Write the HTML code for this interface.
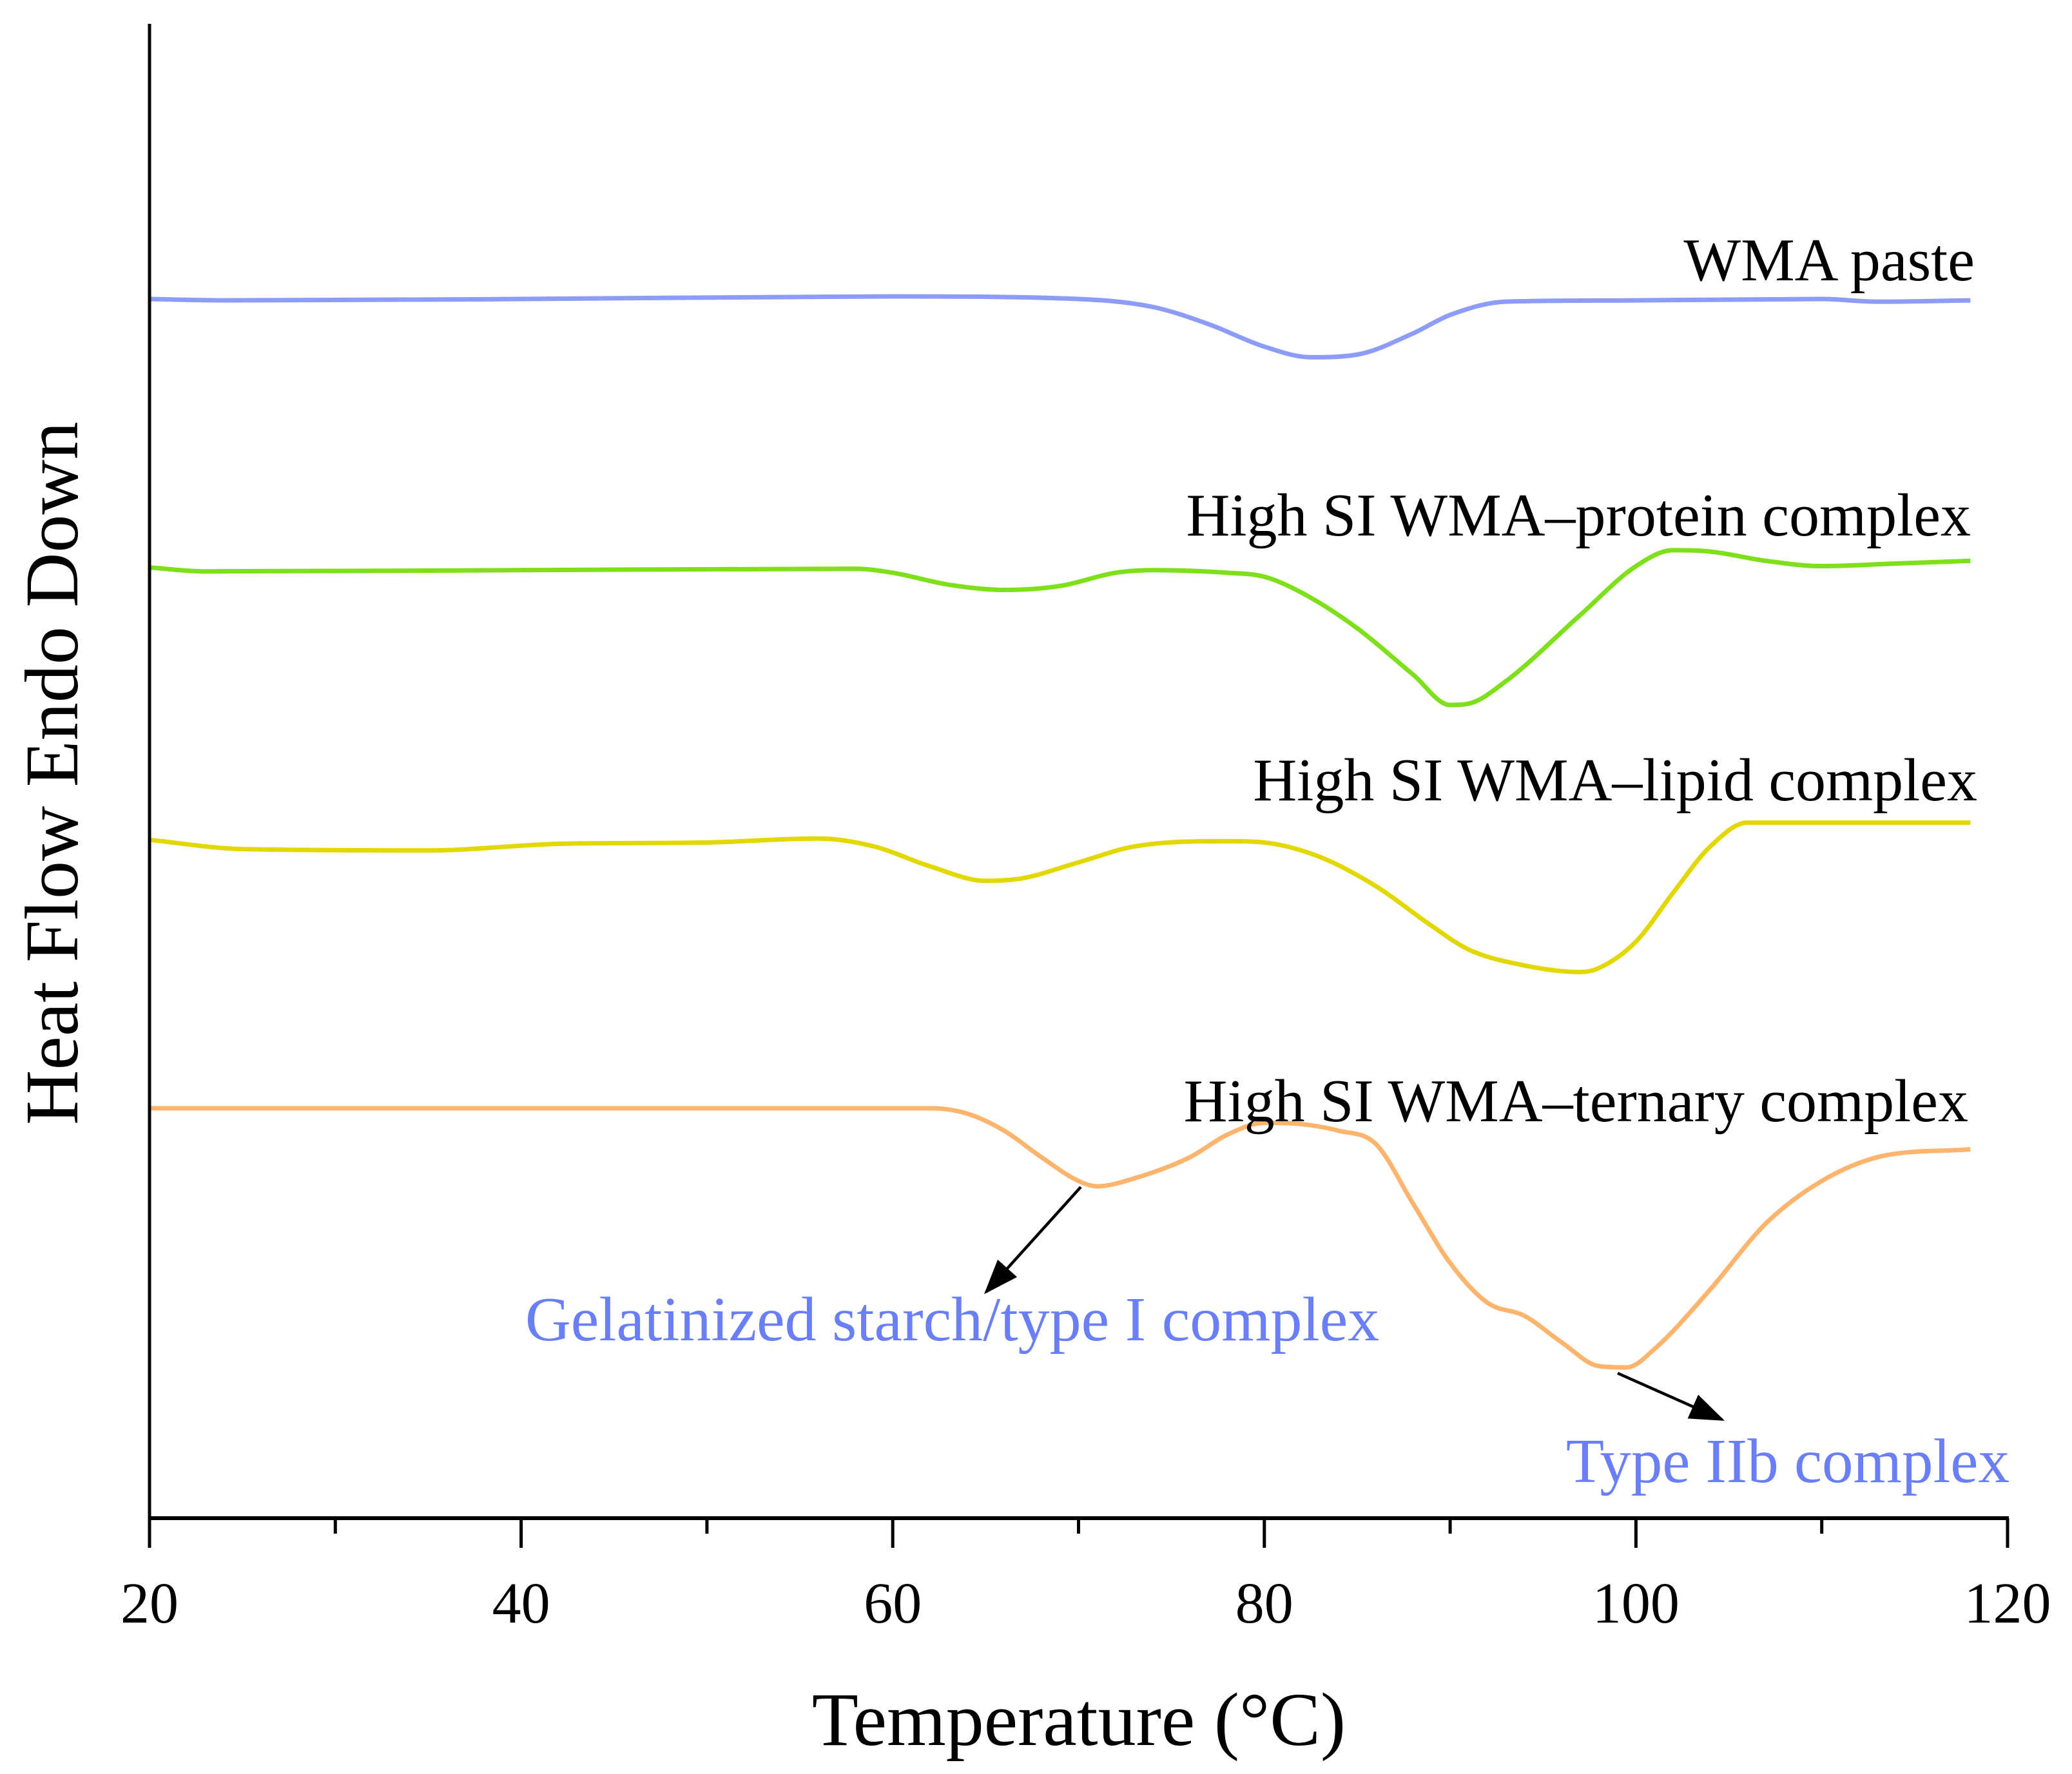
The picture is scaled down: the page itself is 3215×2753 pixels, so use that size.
<!DOCTYPE html>
<html><head><meta charset="utf-8"><style>
html,body{margin:0;padding:0;background:#fff;}
svg{display:block;font-family:"Liberation Serif",serif;}
</style></head><body>
<svg id="chart" width="3215" height="2753" viewBox="0 0 3215 2753" xmlns="http://www.w3.org/2000/svg">
<defs><marker id="ah" markerWidth="12" markerHeight="9" refX="11" refY="4.5" orient="auto" markerUnits="strokeWidth"><path d="M0,0 L12,4.5 L0,9 z" fill="#000"/></marker></defs>
<g id="plot"></g>
<text transform="translate(120,1200) rotate(-90)" text-anchor="middle" font-size="118">Heat Flow Endo Down</text>
<text x="1674" y="2708" text-anchor="middle" font-size="118">Temperature (°C)</text>
<text x="3064" y="435" text-anchor="end" font-size="94">WMA paste</text>
<text x="3058" y="831" text-anchor="end" font-size="94">High SI WMA–protein complex</text>
<text x="3068" y="1242" text-anchor="end" font-size="94">High SI WMA–lipid complex</text>
<text x="3054" y="1740" text-anchor="end" font-size="94">High SI WMA–ternary complex</text>
<text x="815" y="2080" font-size="98" fill="#6a7ff5">Gelatinized starch/type I complex</text>
<text x="3118" y="2300" text-anchor="end" font-size="97" fill="#6a7ff5">Type IIb complex</text>
<line x1="1677" y1="1842" x2="1530" y2="2005" stroke="#000" stroke-width="4.5" marker-end="url(#ah)"/>
<line x1="2510" y1="2131" x2="2672" y2="2203" stroke="#000" stroke-width="4.5" marker-end="url(#ah)"/>
</svg>
<script>
const xTicks = [20, 40, 60, 80, 100, 120];
const xMinor = [30, 50, 70, 90, 110];
const tPaste = [20,24,40,60,70,74,77,80,82.5,85,88,90,93,100,110,113,118];
const vPaste = [92.2,92.1,92.2,92.4,92.2,91.6,90.3,88.6,87.8,88.0,89.6,91.0,92.0,92.1,92.2,92.0,92.1];
const tProtein = [20,23,40,58,60,63,66,69,72,74,78,80,82,85,88,90,91,93,97,100,102,104,107,110,114,118];
const vProtein = [71.9,71.6,71.7,71.8,71.5,70.6,70.2,70.5,71.5,71.7,71.5,71.2,70.0,67.3,63.8,61.5,61.6,63.3,68.3,72.0,73.2,73.1,72.4,72.0,72.2,72.4];
const tLipid = [20,25,35,42,50,56,59,62,65,67,70,73,78,80,83,86,89,91,94,97,98,100,102,104,106,110,118];
const vLipid = [51.3,50.6,50.5,51.0,51.1,51.4,50.8,49.3,48.2,48.4,49.6,50.8,51.2,51.1,50.0,47.8,44.8,43.0,41.8,41.3,41.6,43.6,47.3,50.8,52.6,52.6,52.6];
const tTernary = [20,40,62,64,66,68,70,71,73,76,78,80,82,84,86,88,90,92,94,96,98,99.5,101,104,107,110,113,118];
const vTernary = [31.0,31.0,31.0,30.6,29.3,27.3,25.5,25.1,25.7,27.3,29.0,29.9,29.8,29.3,28.3,23.8,19.3,16.3,15.3,13.3,11.5,11.4,12.8,17.3,22.3,25.5,27.3,27.9];

const NS = "http://www.w3.org/2000/svg";
const X0 = 232, X1 = 3115, YB = 2356;
const xs = t => X0 + (t - 20) / 100 * (X1 - X0);
const ys = v => YB - v * 10 * 2.052;
const plot = document.getElementById('plot');
function mk(tag, attrs) { const e = document.createElementNS(NS, tag); for (const k in attrs) e.setAttribute(k, attrs[k]); plot.appendChild(e); return e; }

function smoothPath(ts, vs) {
  const x = ts.map(xs), y = vs.map(ys), n = x.length;
  const d = [], m = new Array(n);
  for (let i = 0; i < n - 1; i++) d.push((y[i + 1] - y[i]) / (x[i + 1] - x[i]));
  m[0] = d[0]; m[n - 1] = d[n - 2];
  for (let i = 1; i < n - 1; i++) {
    if (d[i - 1] * d[i] <= 0) { m[i] = 0; continue; }
    const avg = (d[i - 1] + d[i]) / 2;
    const lim = 3 * Math.min(Math.abs(d[i - 1]), Math.abs(d[i]));
    m[i] = Math.sign(avg) * Math.min(Math.abs(avg), lim);
  }
  let p = `M${x[0]},${y[0]}`;
  for (let i = 0; i < n - 1; i++) {
    const h = (x[i + 1] - x[i]) / 3;
    p += ` C${x[i] + h},${y[i] + m[i] * h} ${x[i + 1] - h},${y[i + 1] - m[i + 1] * h} ${x[i + 1]},${y[i + 1]}`;
  }
  return p;
}

const s1 = mk('path', {d: smoothPath(tPaste, vPaste), fill: 'none', stroke: '#8c9cf8', 'stroke-width': 7, 'stroke-linejoin': 'round'});


const s2 = mk('path', {d: smoothPath(tProtein, vProtein), fill: 'none', stroke: '#7ee01a', 'stroke-width': 7, 'stroke-linejoin': 'round'});


const s3 = mk('path', {d: smoothPath(tLipid, vLipid), fill: 'none', stroke: '#e2d800', 'stroke-width': 7, 'stroke-linejoin': 'round'});


const s4 = mk('path', {d: smoothPath(tTernary, vTernary), fill: 'none', stroke: '#fdb56e', 'stroke-width': 7, 'stroke-linejoin': 'round'});



const ya = mk('line', {x1: X0, y1: 37, x2: X0, y2: YB, stroke: '#000', 'stroke-width': 5});


const xa = mk('line', {x1: X0 - 2, y1: YB, x2: X1 + 2, y2: YB, stroke: '#000', 'stroke-width': 6});



xTicks.forEach(t => {
  const l = mk('line', {x1: xs(t), y1: YB, x2: xs(t), y2: YB + 46, stroke: '#000', 'stroke-width': 5});
  
  
  const tx = mk('text', {x: xs(t), y: 2518, 'text-anchor': 'middle', 'font-size': 90});
  tx.textContent = t;
  
  
});
xMinor.forEach(t => {
  const l = mk('line', {x1: xs(t), y1: YB, x2: xs(t), y2: YB + 24, stroke: '#000', 'stroke-width': 5});
  
  
});
</script>
</body></html>
